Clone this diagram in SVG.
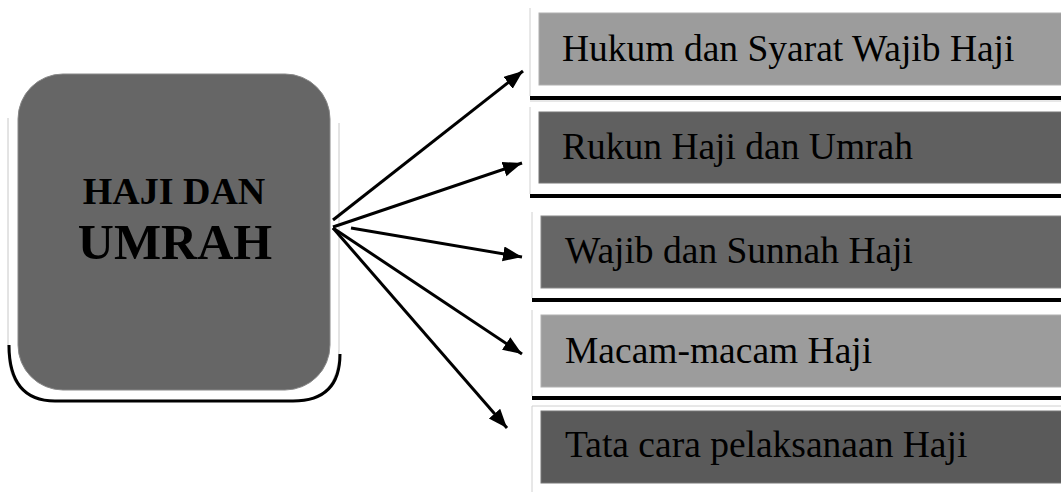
<svg xmlns="http://www.w3.org/2000/svg" width="1061" height="492" viewBox="0 0 1061 492">
<defs>
<style>
.shadow{stroke:#000;stroke-width:4}
.edge{stroke:#d0d0d0;stroke-width:1}
.lbl{font-family:"Liberation Serif","Times New Roman",serif;font-size:37.5px;fill:#000}
.title{font-family:"Liberation Serif","Times New Roman",serif;font-weight:bold;fill:#000;text-anchor:middle}
.conn{stroke:#000;stroke-width:3;fill:none;marker-end:url(#ah)}
</style>
<marker id="ah" markerWidth="20" markerHeight="16" refX="19" refY="7.5" orient="auto" markerUnits="userSpaceOnUse">
<path d="M0,0 L19,7.5 L0,15 Z" fill="#000"/>
</marker>
</defs>
<rect width="1061" height="492" fill="#fff"/>

<g id="main">
<path d="M8,118 L8,350 Q8,401 55,401 L293,401 Q339,401 339,350 L339,123" fill="#fff" stroke="#c8c8c8" stroke-width="1"/>
<path d="M9,345 Q9,401 55,401 L293,401 Q340,401 340,354" fill="none" stroke="#000" stroke-width="3"/>
<rect x="18" y="74" width="312" height="316" rx="45" ry="45" fill="#666" stroke="#888" stroke-width="1"/>
<text class="title" x="174" y="204" font-size="38">HAJI DAN</text>
<text class="title" x="175" y="259" font-size="50">UMRAH</text>
</g>

<g id="n1">
<line class="edge" x1="530" y1="8" x2="530" y2="96"/>
<line class="shadow" x1="530" y1="98" x2="1061" y2="98"/>
<rect x="539" y="13" width="530" height="72" fill="#9c9c9c" stroke="#b0b0b0"/>
<text class="lbl" x="562" y="61">Hukum dan Syarat Wajib Haji</text>
</g>

<g id="n2">
<line class="edge" x1="530" y1="101" x2="1061" y2="101"/>
<line class="edge" x1="530" y1="107" x2="530" y2="194"/>
<line class="shadow" x1="530" y1="196" x2="1061" y2="196"/>
<rect x="539" y="112" width="530" height="71" fill="#606060" stroke="#777"/>
<text class="lbl" x="562" y="159">Rukun Haji dan Umrah</text>
</g>

<g id="n3">
<line class="edge" x1="532" y1="212" x2="532" y2="298"/>
<line class="shadow" x1="532" y1="300" x2="1061" y2="300"/>
<rect x="541" y="216" width="530" height="72" fill="#666" stroke="#888"/>
<text class="lbl" x="565" y="263">Wajib dan Sunnah Haji</text>
</g>

<g id="n4">
<line class="edge" x1="532" y1="310" x2="532" y2="396"/>
<line class="shadow" x1="532" y1="398" x2="1061" y2="398"/>
<rect x="541" y="315" width="530" height="72" fill="#9c9c9c" stroke="#b0b0b0"/>
<text class="lbl" x="565" y="363">Macam-macam Haji</text>
</g>

<g id="n5">
<line class="edge" x1="532" y1="406" x2="1061" y2="406"/>
<line class="edge" x1="532" y1="406" x2="532" y2="492"/>
<rect x="541" y="411" width="530" height="72" fill="#5a5a5a" stroke="#777"/>
<text class="lbl" x="565" y="457">Tata cara pelaksanaan Haji</text>
</g>

<g id="connectors">
<line class="conn" x1="333" y1="220" x2="523" y2="71"/>
<line class="conn" x1="333" y1="227" x2="522" y2="163"/>
<line class="conn" x1="351" y1="228" x2="522" y2="257"/>
<line class="conn" x1="333" y1="228" x2="522" y2="354"/>
<line class="conn" x1="333" y1="228" x2="507" y2="428"/>
</g>
</svg>
